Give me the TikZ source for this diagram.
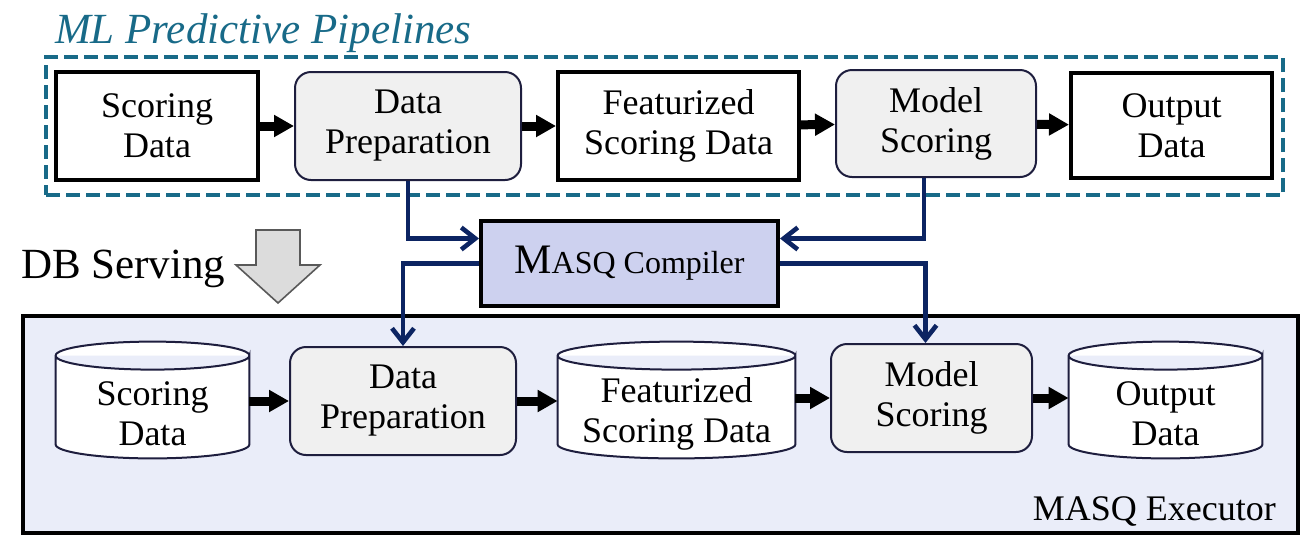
\documentclass[tikz,border=0pt]{standalone}
\usepackage{fontspec}
\setmainfont{Liberation Serif}
\usetikzlibrary{arrows.meta,positioning,calc}

\definecolor{pipeteal}{RGB}{24,106,136}
\definecolor{linknavy}{RGB}{12,36,98}
\definecolor{compfill}{RGB}{205,209,239}
\definecolor{execfill}{RGB}{234,237,249}
\definecolor{opfill}{RGB}{240,240,240}
\definecolor{opline}{RGB}{30,30,62}
\definecolor{servefill}{RGB}{220,220,220}

\newcommand\boxfont{\fontsize{18}{20}\selectfont}

\pgfdeclarelayer{bottom}
\pgfdeclarelayer{middle}
\pgfsetlayers{bottom,middle,main}

\tikzset{
  pipeframe/.style={draw=pipeteal, line width=2.4pt, dash pattern=on 7pt off 3pt,
    minimum width=618.5pt, minimum height=69pt, inner sep=0pt},
  execframe/.style={draw=black, line width=1.8pt, fill=execfill,
    minimum width=637.5pt, minimum height=108.5pt, inner sep=0pt},
  databox/.style={draw=black, line width=2pt, fill=white, minimum height=54pt,
    align=center, inner sep=0pt, font=\boxfont},
  opbox/.style={draw=opline, line width=1pt, fill=opfill, rounded corners=8pt,
    minimum height=54pt, align=center, inner sep=0pt, font=\boxfont},
  dbstore/.style={minimum height=44pt, align=center, inner sep=0pt, font=\boxfont},
  dbline/.style={draw=opline, line width=1pt, fill=white},
  compbox/.style={draw=black, line width=2pt, fill=compfill,
    minimum width=148.5pt, minimum height=42.5pt, inner sep=0pt},
  flow/.style={line width=4.5pt, -{Triangle[length=10pt,width=10.5pt]}},
  link/.style={draw=linknavy, line width=2.3pt, -{Straight Barb[length=7pt,width=11pt]}},
  servearrow/.style={draw=black!65, line width=0.8pt, fill=servefill},
}

% cylinder drawn round a dbstore node
\newcommand\drawcyl[1]{%
  \path[dbline] let \p1=(#1.north west), \p2=(#1.north east), \n1={(\x2-\x1)/2} in
    ([yshift=7pt]#1.north east) arc[start angle=0, end angle=180, x radius=\n1, y radius=7pt]
    -- ([yshift=7pt]#1.south west) arc[start angle=180, end angle=360, x radius=\n1, y radius=7pt]
    -- ([yshift=7pt]#1.north east) arc[start angle=0, end angle=-180, x radius=\n1, y radius=7pt];}

\begin{document}
\begin{tikzpicture}[x=0.5pt,y=-0.5pt]
  \useasboundingbox (0,0) rectangle (1311,542);

  % ML pipeline
  \node[pipeframe] (pipes) at (664.5,126) {};
  \node[anchor=base west, text=pipeteal, font=\fontsize{21.5}{24}\selectfont\itshape] (ptitle) at (48,43) {ML Predictive Pipelines};

  \node[databox, minimum width=101pt] (sd1) at (157,126) {Scoring\\Data};
  \node[opbox, minimum width=113pt] (dp1) at (408,126) {Data\\Preparation};
  \node[databox, minimum width=120.5pt] (fd1) at (678.5,126) {Featurized\\Scoring Data};
  \node[opbox, minimum width=100pt, minimum height=53.5pt] (ms1) at (936,123.5) {Model\\Scoring};
  \node[databox, minimum width=100.5pt, minimum height=52.5pt] (od1) at (1171.5,125.5) {Output\\Data};

  \draw[flow] (sd1) -- (dp1);
  \draw[flow] (dp1) -- (fd1);
  \draw[flow] (fd1) -- (ms1);
  \draw[flow] (ms1) -- (od1);

  % compiler
  \node[compbox] (comp) at (629.5,263.5) {{\fontsize{21}{22}\selectfont M}{\fontsize{16}{18}\selectfont ASQ Compiler}};
  \node[anchor=base west, font=\fontsize{21.5}{24}\selectfont] (serve) at (14,278) {DB Serving};
  \draw[servearrow] (256,230) -- (300,230) -- (300,265) -- (320,265) -- (278,303) -- (236,265) -- (256,265) -- cycle;

  % executor
  \begin{pgfonlayer}{bottom}
    \node[execframe] (exec) at (660.5,424.5) {};
  \end{pgfonlayer}
  \node[anchor=base east, font=\fontsize{18}{20}\selectfont] (execlabel) at (1283,520) {MASQ Executor};

  \node[dbstore, minimum width=96.5pt] (sd2) at (152.5,414) {Scoring\\Data};
  \node[opbox, minimum width=113pt] (dp2) at (403,401) {Data\\Preparation};
  \node[dbstore, minimum width=118.5pt] (fd2) at (676.5,414) {Featurized\\Scoring Data};
  \node[opbox, minimum width=100.5pt] (ms2) at (931.5,398) {Model\\Scoring};
  \node[dbstore, minimum width=96.5pt] (od2) at (1165.5,414) {Output\\Data};

  \begin{pgfonlayer}{middle}
    \drawcyl{sd2}
    \drawcyl{fd2}
    \drawcyl{od2}
  \end{pgfonlayer}

  \draw[flow] (sd2.east |- dp2.west) -- (dp2.west);
  \draw[flow] (dp2.east) -- (dp2.east -| fd2.west);
  \draw[flow] (fd2.east |- ms2.west) -- (ms2.west);
  \draw[flow] (ms2.east) -- (ms2.east -| od2.west);

  % compiler links
  \draw[link] (dp1.south) |- ([yshift=12.5pt]comp.west);
  \draw[link] ([xshift=-6pt]ms1.south) |- ([yshift=12.5pt]comp.east);
  \draw[link] (comp.west) -| (dp2.north);
  \draw[link] (comp.east) -| ([xshift=-3pt]ms2.north);
\end{tikzpicture}
\end{document}
